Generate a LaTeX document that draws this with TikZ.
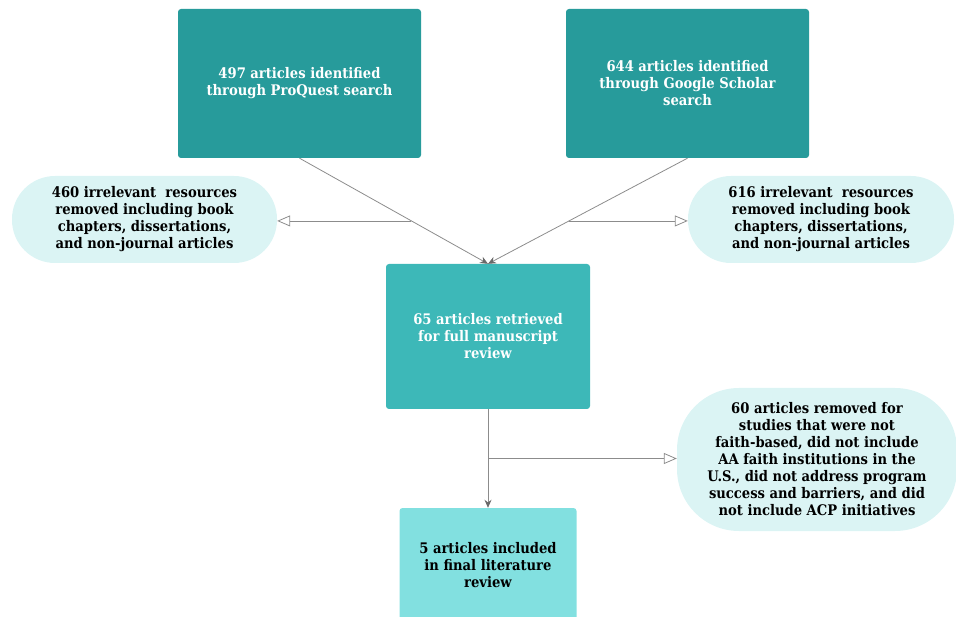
\documentclass[tikz,border=0pt]{standalone}
\usepackage{fontspec}
\setmainfont{DejaVu Serif Condensed}
\usetikzlibrary{arrows.meta,positioning,calc}
\definecolor{tealA}{HTML}{279B9B}
\definecolor{tealB}{HTML}{3DB8B8}
\definecolor{tealC}{HTML}{82E0E0}
\definecolor{paleT}{HTML}{DBF4F4}
\definecolor{lineG}{HTML}{8C8C8C}
\definecolor{headG}{HTML}{6A6A6A}
\tikzset{
  box/.style={rectangle, rounded corners=3pt, draw=none, text=white, align=center,
    font=\bfseries\fontsize{14.6}{17}\selectfont, inner sep=0pt},
  pill/.style={rectangle, draw=none, fill=paleT, text=black, align=center,
    font=\bfseries\fontsize{14.6}{17}\selectfont, inner sep=0pt},
  conn/.style={draw=lineG, line width=0.8pt, -{Stealth[length=8pt,width=7pt,fill=headG,color=headG]}},
  branch/.style={draw=lineG, line width=0.8pt, -{Triangle[open,length=13pt,width=11pt,fill=white,color=lineG]}},
}
\begin{document}
\begin{tikzpicture}[x=1pt,y=-1pt]
\useasboundingbox (0,0) rectangle (956,617);
\begin{scope}
\clip (0,0) rectangle (956,617);
\node[box, fill=tealA, minimum width=243pt, minimum height=149pt] (b1) at (299.5,83.5)
  {497 articles identified\\through ProQuest search};
\node[box, fill=tealA, minimum width=243pt, minimum height=149pt] (b2) at (687.5,83.5)
  {644 articles identified\\through Google Scholar\\search};
\node[box, fill=tealB, minimum width=204pt, minimum height=145pt] (b3) at (488,336.5)
  {65 articles retrieved\\for full manuscript\\review};
\node[box, fill=tealC, text=black, minimum width=177pt, minimum height=114pt] (b4) at (488,565)
  {5 articles included\\in final literature\\review};
\node[pill, rounded corners=43pt, minimum width=265pt, minimum height=87pt] (p1) at (144.5,219.5)
  {460 irrelevant\ \ resources\\removed including book\\chapters, dissertations,\\and non-journal articles};
\node[pill, rounded corners=43pt, minimum width=266pt, minimum height=87pt] (p2) at (821,219.5)
  {616 irrelevant\ \ resources\\removed including book\\chapters, dissertations,\\and non-journal articles};
\node[pill, rounded corners=62pt, minimum width=280pt, minimum height=143pt] (p3) at (817,459.5)
  {60 articles removed for\\studies that were not\\faith-based, did not include\\AA faith institutions in the\\U.S., did not address program\\success and barriers, and did\\not include ACP initiatives};
\end{scope}
\path (b1.south) -- coordinate[pos=0.594] (j1) (b3.north);
\path (b2.south) -- coordinate[pos=0.594] (j2) (b3.north);
\coordinate (j3) at ($(b3.south)!0.5!(b4.north)$);
\draw[conn] (b1.south) -- (b3.north);
\draw[conn] (b2.south) -- (b3.north);
\draw[conn] (b3.south) -- (b4.north);
\draw[branch] (j1) -- (j1 -| p1.east);
\draw[branch] (j2) -- (j2 -| p2.west);
\draw[branch] (j3) -- (j3 -| p3.west);
\end{tikzpicture}
\end{document}
